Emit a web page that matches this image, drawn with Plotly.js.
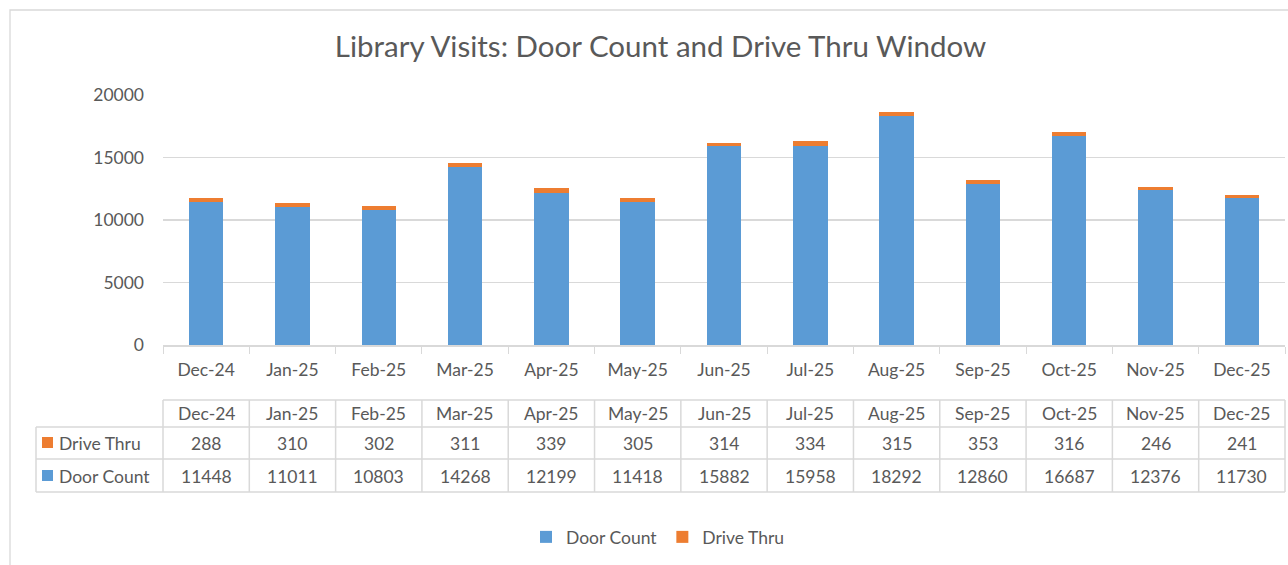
<!DOCTYPE html>
<html><head><meta charset="utf-8">
<script src="https://cdn.plot.ly/plotly-3.0.1.min.js"></script>
<style>html,body{margin:0;padding:0;background:#fff;}#c{width:1288px;height:565px;}</style>
</head><body><div id="c"></div>
<script>
const months = ["Dec-24","Jan-25","Feb-25","Mar-25","Apr-25","May-25","Jun-25","Jul-25","Aug-25","Sep-25","Oct-25","Nov-25","Dec-25"];
const doorCount = [11448,11011,10803,14268,12199,11418,15882,15958,18292,12860,16687,12376,11730];
const driveThru = [288,310,302,311,339,305,314,334,315,353,316,246,241];
const yTicks = [0,5000,10000,15000,20000];

const W=1288,H=565, L=163, R=1285, T=95, B=345;
const FONT="Lato, 'Open Sans', sans-serif";
const TXT="#595959", GRID="#D9D9D9";
const FS=17.5;
const px=x=>(x-L)/(R-L);
const py=y=>(B-y)/(B-T);

const shapes=[], ann=[];
// outer chart border
shapes.push({type:'rect',xref:'paper',yref:'paper',x0:px(10),x1:px(1296),y0:py(10),y1:py(575),line:{color:GRID,width:1.3},layer:'below'});
// table lines
shapes.push({type:'line',xref:'paper',yref:'paper',x0:px(L),x1:px(R),y0:py(400),y1:py(400),line:{color:GRID,width:1.5}});
[427,459,492].forEach(y=>shapes.push({type:'line',xref:'paper',yref:'paper',x0:px(36),x1:px(R),y0:py(y),y1:py(y),line:{color:GRID,width:1.5}}));
shapes.push({type:'line',xref:'paper',yref:'paper',x0:px(36),x1:px(36),y0:py(427),y1:py(492),line:{color:GRID,width:1.5}});
for(let i=0;i<=months.length;i++){
  const xx=i/months.length;
  shapes.push({type:'line',xref:'paper',yref:'paper',x0:xx,x1:xx,y0:py(400),y1:py(492),line:{color:GRID,width:1.5}});
}
// row label keys
shapes.push({type:'rect',xref:'paper',yref:'paper',x0:px(42),x1:px(53),y0:py(437),y1:py(448),fillcolor:'#ED7D31',line:{width:0}});
shapes.push({type:'rect',xref:'paper',yref:'paper',x0:px(42),x1:px(53),y0:py(470),y1:py(481),fillcolor:'#5B9BD5',line:{width:0}});
const tf={family:FONT,size:FS,color:TXT};
ann.push({xref:'paper',yref:'paper',x:px(57),y:py(443),text:'Drive Thru',showarrow:false,xanchor:'left',yanchor:'middle',font:tf});
ann.push({xref:'paper',yref:'paper',x:px(57),y:py(476),text:'Door Count',showarrow:false,xanchor:'left',yanchor:'middle',font:tf});
months.forEach((m,i)=>{
  ann.push({xref:'x',yref:'paper',x:m,y:py(413.5),text:m,showarrow:false,yanchor:'middle',font:tf});
  ann.push({xref:'x',yref:'paper',x:m,y:py(443),text:String(driveThru[i]),showarrow:false,yanchor:'middle',font:tf});
  ann.push({xref:'x',yref:'paper',x:m,y:py(476),text:String(doorCount[i]),showarrow:false,yanchor:'middle',font:tf});
});

const data=[
 {type:'bar',name:'Door Count',x:months,y:doorCount,marker:{color:'#5B9BD5'},hoverinfo:'skip'},
 {type:'bar',name:'Drive Thru',x:months,y:driveThru,marker:{color:'#ED7D31'},hoverinfo:'skip'}
];
const layout={
 width:W,height:H,margin:{l:L,r:W-R,t:T,b:H-B},
 paper_bgcolor:'#fff',plot_bgcolor:'#fff',
 barmode:'stack',bargap:0.6,
 font:{family:FONT,color:TXT,size:FS},
 title:{text:'Library Visits: Door Count and Drive Thru Window',font:{family:FONT,size:29.5,color:TXT},x:(333+988)/2/W,xanchor:'center',y:1-47/H,yanchor:'middle',yref:'container'},
 xaxis:{type:'category',tickson:'boundaries',ticks:'outside',ticklen:7,tickcolor:GRID,showline:true,linecolor:GRID,linewidth:1.5,showgrid:false,tickfont:{family:FONT,size:FS,color:TXT},ticklabelstandoff:8,fixedrange:true},
 yaxis:{range:[0,20000],tickvals:yTicks,ticktext:yTicks.map(String),showgrid:true,gridcolor:GRID,gridwidth:1.5,zeroline:false,showline:false,ticks:'',tickfont:{family:FONT,size:FS,color:TXT},ticklabelstandoff:18,fixedrange:true},
 showlegend:true,
 legend:{orientation:'h',x:px(658),xanchor:'center',y:py(537),yanchor:'middle',font:{family:FONT,size:FS,color:TXT},traceorder:'normal',itemwidth:30},
 shapes:shapes,annotations:ann
};
Plotly.newPlot('c',data,layout,{displayModeBar:false,staticPlot:true});
</script></body></html>
